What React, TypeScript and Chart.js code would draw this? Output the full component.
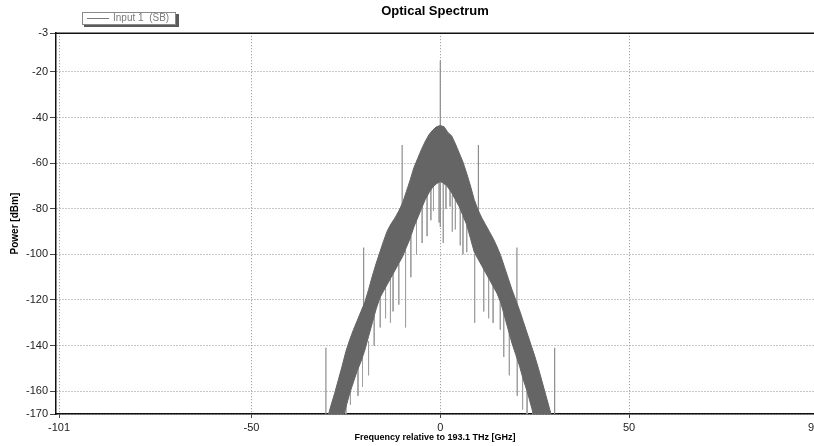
import React, { useEffect, useRef } from "react";
import { Chart, registerables } from "chart.js";

Chart.register(...registerables);

// Frequency grid (GHz, relative to 193.1 THz) for the envelope of the dense spectrum trace
const freqGHz = [
  -30, -29, -28, -27, -26, -25, -24, -23, -22, -21, -20, -19, -18, -17, -16, -15,
  -14, -13, -12, -11, -10, -9, -8, -7, -6, -5, -4, -3, -2, -1, 0,
  1, 2, 3, 4, 5, 6, 7, 8, 9, 10, 11, 12, 13, 14, 15,
  16, 17, 18, 19, 20, 21, 22, 23, 24, 25, 26, 27, 28, 29, 30,
];

// Upper envelope of the trace (dBm)
const upperDbm = [
  -172.5, -166.5, -161, -155, -149, -142.5, -137.5, -133, -129, -125, -121, -115.5, -109.5, -104, -99, -94,
  -89.5, -86.5, -84, -81, -77.5, -72.5, -67.5, -62, -58, -54, -50.5, -47.5, -45.5, -44, -43.5,
  -44, -46.5, -48, -51.5, -55.5, -59.5, -64.5, -70, -76, -80.5, -84, -87, -90, -93, -96.5,
  -100.5, -105.5, -110.5, -115.5, -120, -124.5, -129.5, -134.5, -139.5, -144.5, -150, -156, -162, -168, -174,
];

// Lower envelope of the trace (dBm)
const lowerDbm = [
  -197, -191, -185, -179, -173, -167, -161, -156, -151, -147, -142, -136, -130, -124, -119, -116,
  -113, -110, -107, -104, -101, -97, -93, -88, -84, -80, -76, -73, -70.5, -69, -68,
  -69, -70.5, -73, -76, -79, -83, -87, -93, -99, -102, -105, -108, -111, -114, -117,
  -121, -127, -133, -139, -144, -149, -155, -160, -166, -172, -178, -184, -190, -196, -202,
];

// Discrete spectral lines (carrier and side tones)
const lineFreqGHz = [0, -10.1, 10.1, -20.3, 20.3, -30.3, 30.3];
const lineTopDbm = [-15, -52, -52, -97, -97, -141, -141];
const lineBottomDbm = [-88, -100, -100, -140, -140, -172, -172];

// Noise spikes hanging below the dense trace
const spikeFreqGHz = [
  -25, -23.8, -21.8, -20.6, -19, -17.5, -15.9, -14.5, -13.2, -12.5, -11, -9.2, -7.8, -6.3, -4.8, -3.5, -2.5, -1.8, -0.3,
  0.8, 1.5, 2.6, 3.2, 4, 5.3, 6, 7, 9.1, 11.5, 12.8, 14, 15.9, 16.8, 18.3, 20.4, 21.8, 23, 24.5,
];
const spikeTopDbm = [
  -166, -158, -150, -143, -138, -127, -118, -112, -110, -108, -104, -98, -92, -84, -78, -74, -70, -70, -68,
  -69, -70, -72, -74, -76, -80, -83, -87, -100, -106, -110, -113, -118, -126, -132, -143, -154, -158, -166,
];
const spikeBottomDbm = [
  -172, -166, -162, -158, -153, -140, -132, -128, -130, -125, -122, -132, -110, -100, -95, -92, -85, -81, -86,
  -95, -80, -79, -90, -89, -96, -100, -99, -130, -125, -128, -130, -133, -145, -153, -162, -168, -172, -172,
];

const xTicks = [-101, -50, 0, 50, 99];
const yTicks = [-3, -20, -40, -60, -80, -100, -120, -140, -160, -170];

const titleText = "Optical Spectrum";
const xTitle = "Frequency relative to 193.1 THz [GHz]";
const yTitle = "Power [dBm]";
const legendLabel = "Input 1  (SB)";

const FONT = "'Liberation Sans', Arial, sans-serif";

function segments(freqs: number[], tops: number[], bottoms: number[]) {
  const out: { x: number; y: number | null }[] = [];
  freqs.forEach((f, i) => {
    out.push({ x: f, y: tops[i] });
    out.push({ x: f, y: bottoms[i] });
    out.push({ x: f, y: null });
  });
  return out;
}

const legendPlugin = {
  id: "sbLegend",
  afterDraw(chart: any) {
    const ctx = chart.ctx as CanvasRenderingContext2D;
    ctx.save();
    ctx.fillStyle = "#5a5a5a";
    ctx.fillRect(84, 14, 95, 13);
    ctx.fillStyle = "#ffffff";
    ctx.fillRect(82, 12, 94, 13);
    ctx.strokeStyle = "#8a8a8a";
    ctx.lineWidth = 1;
    ctx.strokeRect(82.5, 12.5, 93, 12);
    ctx.strokeStyle = "#7a7a7a";
    ctx.beginPath();
    ctx.moveTo(87, 18.5);
    ctx.lineTo(109, 18.5);
    ctx.stroke();
    ctx.fillStyle = "#7a7a7a";
    ctx.font = `10px ${FONT}`;
    ctx.textBaseline = "middle";
    ctx.fillText(legendLabel, 113, 18.5);
    ctx.restore();
  },
};

const framePlugin = {
  id: "topFrame",
  afterDatasetsDraw(chart: any) {
    const { ctx, chartArea } = chart;
    ctx.save();
    ctx.strokeStyle = "#111";
    ctx.lineWidth = 1.5;
    ctx.beginPath();
    ctx.moveTo(chartArea.left, chartArea.top);
    ctx.lineTo(chartArea.right, chartArea.top);
    ctx.stroke();
    ctx.restore();
  },
};

export default function App() {
  const canvasRef = useRef<HTMLCanvasElement | null>(null);

  useEffect(() => {
    if (!canvasRef.current) return;
    const chart = new Chart(canvasRef.current, {
      type: "line",
      data: {
        datasets: [
          {
            label: legendLabel,
            data: freqGHz.map((f, i) => ({ x: f, y: upperDbm[i] })),
            borderColor: "#656565",
            backgroundColor: "#656565",
            borderWidth: 1,
            pointRadius: 0,
            fill: "+1",
            order: 1,
          },
          {
            label: "lower",
            data: freqGHz.map((f, i) => ({ x: f, y: lowerDbm[i] })),
            borderColor: "#656565",
            borderWidth: 1,
            pointRadius: 0,
            fill: false,
            order: 1,
          },
          {
            label: "lines",
            data: segments(lineFreqGHz, lineTopDbm, lineBottomDbm),
            borderColor: "#8c8c8c",
            borderWidth: 1.2,
            pointRadius: 0,
            fill: false,
            spanGaps: false,
            order: 3,
          },
          {
            label: "spikes",
            data: segments(spikeFreqGHz, spikeTopDbm, spikeBottomDbm),
            borderColor: "#a0a0a0",
            borderWidth: 1,
            pointRadius: 0,
            fill: false,
            spanGaps: false,
            order: 4,
          },
        ],
      } as any,
      options: {
        responsive: false,
        animation: false,
        events: [],
        layout: { padding: 0 },
        plugins: {
          legend: { display: false },
          tooltip: { enabled: false },
          title: {
            display: true,
            fullSize: false,
            text: titleText,
            color: "#000",
            font: { family: FONT, size: 13, weight: "bold", lineHeight: 1.2 },
            padding: { top: 4, bottom: 13.6 },
          },
        },
        scales: {
          x: {
            type: "linear",
            min: -101.8,
            max: 99,
            offset: false,
            afterBuildTicks: (axis: any) => {
              axis.ticks = xTicks.map((v) => ({ value: v }));
            },
            afterFit: (scale: any) => {
              scale.height = 32;
              scale.paddingLeft = 0;
              scale.paddingRight = 0;
            },
            ticks: {
              autoSkip: false,
              maxRotation: 0,
              color: "#222",
              padding: 3,
              font: { family: FONT, size: 11 },
              callback: (v: any) => String(v),
            },
            grid: {
              color: "#8e8e8e",
              lineWidth: 1,
              tickLength: 4,
              tickColor: "#444",
              tickWidth: 1,
            },
            border: { display: true, color: "#111", width: 1.5, dash: [1, 2] },
            title: {
              display: true,
              text: xTitle,
              color: "#000",
              font: { family: FONT, size: 9, weight: "bold", lineHeight: 1.2 },
              padding: { top: 0, bottom: 3 },
            },
          },
          y: {
            type: "linear",
            min: -170,
            max: -3,
            afterBuildTicks: (axis: any) => {
              axis.ticks = yTicks.map((v) => ({ value: v }));
            },
            afterFit: (scale: any) => {
              scale.width = 56;
              scale.paddingTop = 0;
              scale.paddingBottom = 0;
            },
            ticks: {
              autoSkip: false,
              color: "#222",
              padding: 2,
              font: { family: FONT, size: 11 },
              callback: (v: any) => String(v),
            },
            grid: {
              color: "#8e8e8e",
              lineWidth: 1,
              tickLength: 6,
              tickColor: "#444",
              tickWidth: 1,
            },
            border: { display: true, color: "#111", width: 1.5, dash: [1, 2] },
            title: {
              display: true,
              text: yTitle,
              color: "#000",
              font: { family: FONT, size: 10, weight: "bold", lineHeight: 1.2 },
              padding: { top: 9, bottom: 0 },
            },
          },
        },
      } as any,
      plugins: [legendPlugin, framePlugin],
    });
    return () => chart.destroy();
  }, []);

  return (
    <div style={{ position: "absolute", left: 0, top: 0, width: 814, height: 446, background: "#fff" }}>
      <canvas ref={canvasRef} width={814} height={446} style={{ display: "block" }} />
    </div>
  );
}
